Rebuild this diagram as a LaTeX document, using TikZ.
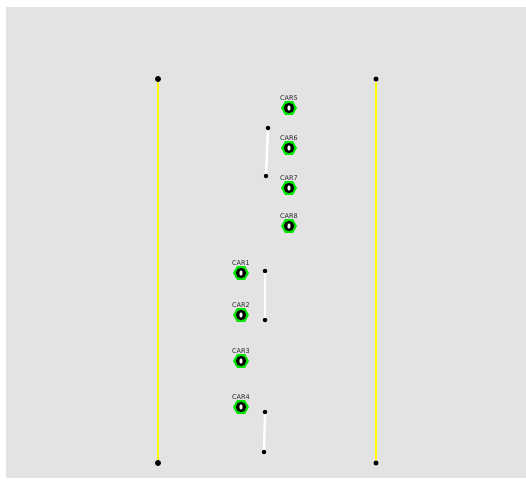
\documentclass[tikz,border=0pt]{standalone}
\usetikzlibrary{shapes.geometric}
\usepackage{fontspec}
\setmainfont{DejaVu Sans}
\definecolor{bg}{RGB}{227,227,227}
\definecolor{lane}{RGB}{255,255,0}
\definecolor{carg}{RGB}{0,230,0}
\tikzset{
  dot/.style={circle,fill=black,inner sep=0pt,minimum size=#1},
  lanel/.style={draw=lane,line width=2.6pt},
  whitel/.style={draw=white,line width=2.4pt},
  hexa/.style={regular polygon,regular polygon sides=6,fill=carg,inner sep=0pt,minimum size=16pt},
  carlabel/.style={font=\fontsize{6.5}{6.5}\selectfont,inner sep=0pt,text=black!85}
}
\newcommand{\car}[3]{%
  \node[hexa] (#1) at (#2,#3) {};
  \fill[black] (#2,#3) circle (5.2pt);
  \fill[white] (#2,#3) ellipse (1.6pt and 2.6pt);
  \node[carlabel] (#1l) at (#2,#3-10) {#1};
}
\begin{document}
\begin{tikzpicture}[x=1pt,y=-1pt]
\useasboundingbox (0,0) rectangle (526,479);
\fill[white] (0,0) rectangle (526,479);
\fill[bg] (6,7) rectangle (526,478);
% lane lines
\node[dot=6pt] (l1) at (158,79) {};
\node[dot=6pt] (l2) at (158,463) {};
\draw[lanel] (l1) -- (l2);
\node[dot=5pt] (r1) at (376,79) {};
\node[dot=5pt] (r2) at (376,463) {};
\draw[lanel] (r1) -- (r2);
% white segments
\node[dot=4.5pt] (a1) at (268,128) {};
\node[dot=4.5pt] (a2) at (266,176) {};
\draw[whitel] (a1) -- (a2);
\node[dot=4.5pt] (b1) at (265,271) {};
\node[dot=4.5pt] (b2) at (265,320) {};
\draw[whitel] (b1) -- (b2);
\node[dot=4.5pt] (c1) at (265,412) {};
\node[dot=4.5pt] (c2) at (264,452) {};
\draw[whitel] (c1) -- (c2);
% cars
\car{CAR5}{289}{108}
\car{CAR6}{289}{148}
\car{CAR7}{289}{188}
\car{CAR8}{289}{226}
\car{CAR1}{241}{273}
\car{CAR2}{241}{315}
\car{CAR3}{241}{361}
\car{CAR4}{241}{407}
\end{tikzpicture}
\end{document}
